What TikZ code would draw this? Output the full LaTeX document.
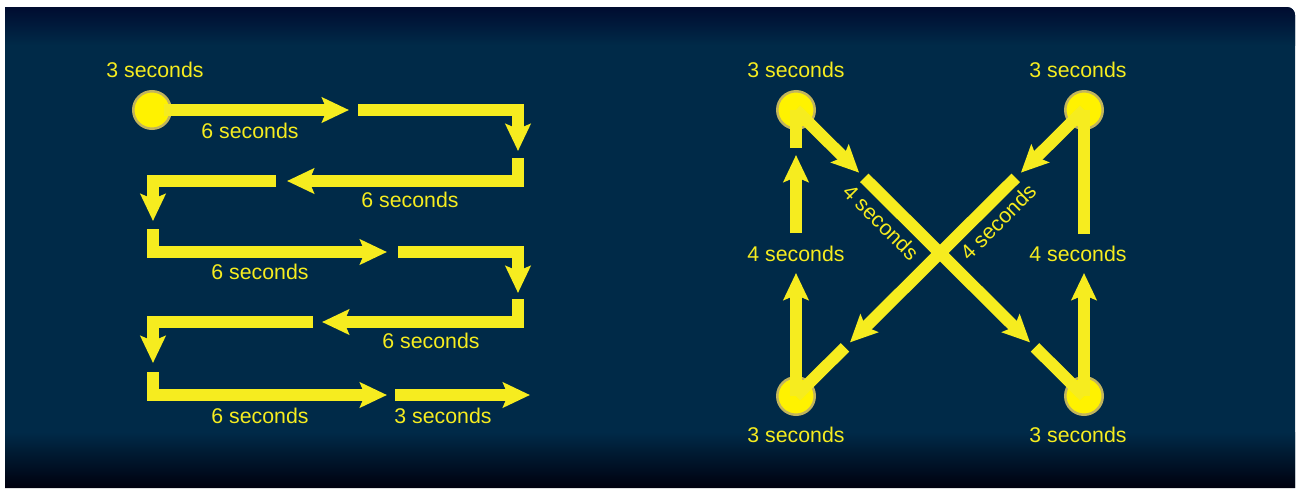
\documentclass[tikz,border=0pt]{standalone}
\usepackage{fontspec}
\setmainfont{Liberation Sans}
\usetikzlibrary{arrows.meta,calc}
\definecolor{bgmain}{HTML}{002A48}
\definecolor{bgtop}{HTML}{000C30}
\definecolor{bgbot}{HTML}{00000E}
\definecolor{ylw}{HTML}{F6EC1F}
\definecolor{dotfill}{HTML}{FFF200}
\definecolor{dotrim}{HTML}{C2B45C}
\begin{document}
\begin{tikzpicture}[x=1pt,y=-1pt,
  bar/.style={draw=ylw, line width=12pt, line join=miter},
  arr/.style={bar, -{Stealth[length=27pt,width=25pt,inset=5pt]}},
  dot/.style={circle, fill=dotfill, draw=dotrim, line width=2.5pt, minimum size=37.5pt, inner sep=0pt},
  lbl/.style={text=ylw, font=\fontsize{21.3}{25}\selectfont, inner sep=0pt}
]
\useasboundingbox (0,0) rectangle (1302,488);
% background
\begin{scope}
  \clip (5,488) -- (5,7) -- (1287,7) arc[start angle=-90, end angle=0, radius=8] -- (1295,488) -- cycle;
  \fill[bgmain] (0,0) rectangle (1302,488);
  \shade[top color=bgtop, bottom color=bgmain] (0,7) rectangle (1302,45);
  \shade[top color=bgmain, bottom color=bgbot] (0,432) rectangle (1302,488);
\end{scope}

% ---------- left diagram ----------
\node[dot] (s) at (152,110) {};
\coordinate (e1) at (349,110);
\draw[arr] ([xshift=12pt]s.center) -- (e1);
\coordinate (a2) at (358,110); \coordinate (e2) at (518,151);
\draw[arr] (a2) -| (e2);
\coordinate (a3) at (518,158); \coordinate (e3) at (287,181);
\draw[arr] (a3) |- (e3);
\coordinate (a4) at (276,181); \coordinate (e4) at (153,221);
\draw[arr] (a4) -| (e4);
\coordinate (a5) at (153,229); \coordinate (e5) at (387,252);
\draw[arr] (a5) |- (e5);
\coordinate (a6) at (398,252); \coordinate (e6) at (518,293);
\draw[arr] (a6) -| (e6);
\coordinate (a7) at (518,299); \coordinate (e7) at (322,322);
\draw[arr] (a7) |- (e7);
\coordinate (a8) at (313,322); \coordinate (e8) at (153,363);
\draw[arr] (a8) -| (e8);
\coordinate (a9) at (153,372); \coordinate (e9) at (387,395);
\draw[arr] (a9) |- (e9);
\coordinate (a10) at (395,395); \coordinate (e10) at (530,395);
\draw[arr] (a10) -- (e10);

\node[lbl] (l0) at (155,70) {3 seconds};
\node[lbl] (l1) at (250,131) {6 seconds};
\node[lbl] (l2) at (410,200) {6 seconds};
\node[lbl] (l3) at (260,272) {6 seconds};
\node[lbl] (l4) at (431,341) {6 seconds};
\node[lbl] (l5) at (260,416) {6 seconds};
\node[lbl] (l6) at (443,416) {3 seconds};

% ---------- right diagram ----------
\node[dot] (A) at (796,110) {};
\node[dot] (B) at (1084,110) {};
\node[dot] (C) at (796,396) {};
\node[dot] (D) at (1084,396) {};

\coordinate (v1) at (796,273);
\coordinate (v2a) at (796,233); \coordinate (v2) at (796,155);
\coordinate (v3) at (796,148);
\coordinate (w1) at (1084,273);
\coordinate (w2) at (1084,234);
\draw[arr] (C.center) -- (v1);
\draw[arr] (v2a) -- (v2);
\draw[bar] (v3) -- (A.center);
\draw[arr] (D.center) -- (w1);
\draw[bar] (w2) -- (B.center);

\draw[arr] (A.center) -- ($(A.center)!0.219!(D.center)$);
\draw[arr] ($(A.center)!0.237!(D.center)$) -- ($(A.center)!0.8125!(D.center)$);
\draw[bar] ($(A.center)!0.83!(D.center)$) -- (D.center);
\draw[arr] (B.center) -- ($(B.center)!0.219!(C.center)$);
\draw[arr] ($(B.center)!0.237!(C.center)$) -- ($(B.center)!0.8125!(C.center)$);
\draw[bar] ($(B.center)!0.83!(C.center)$) -- (C.center);

\node[lbl] (r1) at (796,70) {3 seconds};
\node[lbl] (r2) at (1078,70) {3 seconds};
\node[lbl] (r3) at (796,435) {3 seconds};
\node[lbl] (r4) at (1078,435) {3 seconds};
\node[lbl] (r5) at (796,254) {4 seconds};
\node[lbl] (r6) at (1078,254) {4 seconds};
\node[lbl, rotate=-45] (r7) at (881,222) {4 seconds};
\node[lbl, rotate=45] (r8) at (998,222) {4 seconds};
\end{tikzpicture}
\end{document}
